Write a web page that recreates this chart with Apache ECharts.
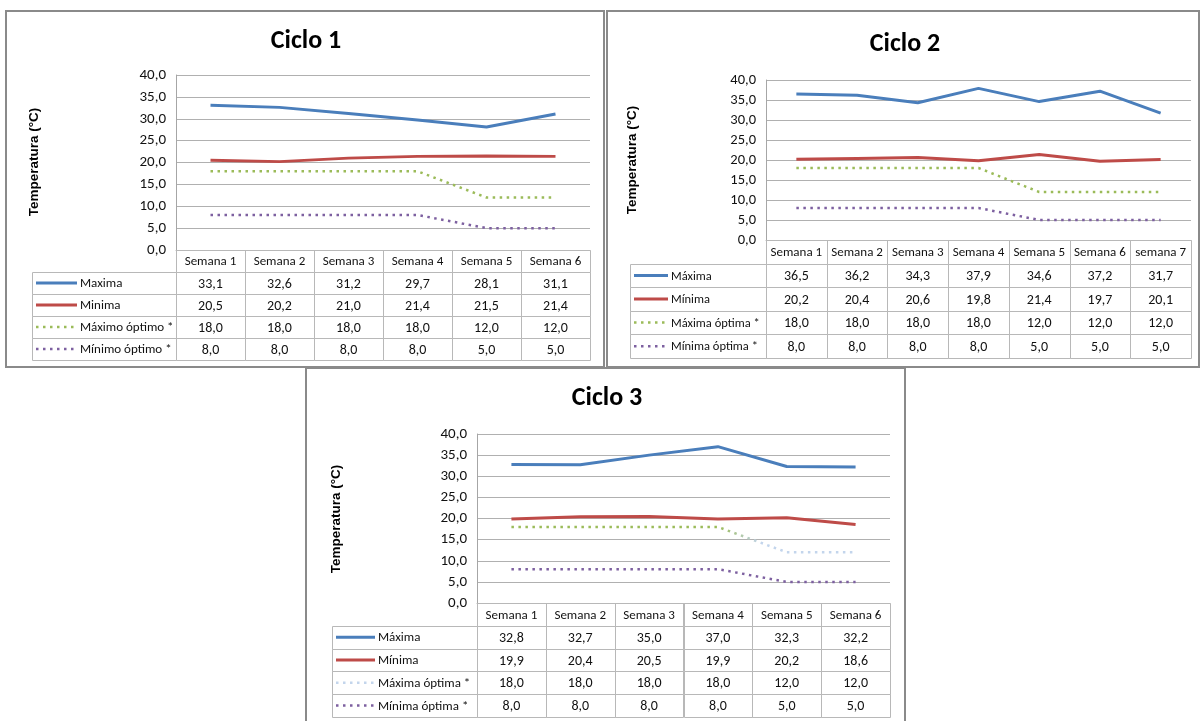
<!DOCTYPE html>
<html>
<head>
<meta charset="utf-8">
<script src="https://cdn.jsdelivr.net/npm/echarts@6/dist/echarts.min.js"></script>
<style>
html,body{margin:0;padding:0;background:#fff;}
#c{width:1201px;height:721px;}
</style>
</head>
<body>
<div id="c"></div>
<script>
// ---------- DATA ----------
const cats1 = ['Semana 1','Semana 2','Semana 3','Semana 4','Semana 5','Semana 6'];
const c1Max = [33.1, 32.6, 31.2, 29.7, 28.1, 31.1];
const c1Min = [20.5, 20.2, 21.0, 21.4, 21.5, 21.4];
const c1OptMax = [18.0, 18.0, 18.0, 18.0, 12.0, 12.0];
const c1OptMin = [8.0, 8.0, 8.0, 8.0, 5.0, 5.0];
const names1 = ['Maxima', 'Minima', 'Máximo óptimo *', 'Mínimo óptimo *'];

const cats2 = ['Semana 1','Semana 2','Semana 3','Semana 4','Semana 5','Semana 6','semana 7'];
const c2Max = [36.5, 36.2, 34.3, 37.9, 34.6, 37.2, 31.7];
const c2Min = [20.2, 20.4, 20.6, 19.8, 21.4, 19.7, 20.1];
const c2OptMax = [18.0, 18.0, 18.0, 18.0, 12.0, 12.0, 12.0];
const c2OptMin = [8.0, 8.0, 8.0, 8.0, 5.0, 5.0, 5.0];
const names2 = ['Máxima', 'Mínima', 'Máxima óptima *', 'Mínima óptima *'];

const cats3 = ['Semana 1','Semana 2','Semana 3','Semana 4','Semana 5','Semana 6'];
const c3Max = [32.8, 32.7, 35.0, 37.0, 32.3, 32.2];
const c3Min = [19.9, 20.4, 20.5, 19.9, 20.2, 18.6];
const c3OptMax = [18.0, 18.0, 18.0, 18.0, 12.0, 12.0];
const c3OptMin = [8.0, 8.0, 8.0, 8.0, 5.0, 5.0];
const names3 = ['Máxima', 'Mínima', 'Máxima óptima *', 'Mínima óptima *'];

const titles = ['Ciclo 1', 'Ciclo 2', 'Ciclo 3'];
const yName = 'Temperatura (°C)';
const yTicks = {min: 0, max: 40, interval: 5};

// ---------- STYLE / LAYOUT ----------
const FONT = "Carlito, 'Liberation Sans Narrow', 'Open Sans', sans-serif";
const BOLD_FONT = "'Liberation Sans', Arial, sans-serif";
const BLUE = '#4a7ebb', RED = '#be4b48', GREEN = '#9bbb59', PURPLE = '#7d60a0', LIGHTBLUE = '#c3d5ec';
const BORDER = '#b8b8b8', GRID = '#b0b0b0', AXIS = '#a6a6a6', TEXT = '#111';
const fmt = v => v.toFixed(1).replace('.', ',');

const panels = [
  {cats: cats1, series: [c1Max, c1Min, c1OptMax, c1OptMin], names: names1,
   plot: {left: 176, top: 75, width: 414, height: 175}, tableH: 110, tableLeft: 32, keyLen: 41, legendFont: 13, yFont: 15,
   title: {x: 306, y: 41}, yname: {x: 34, y: 162}, optMaxGradient: false},
  {cats: cats2, series: [c2Max, c2Min, c2OptMax, c2OptMin], names: names2,
   plot: {left: 766, top: 80, width: 425, height: 160}, tableH: 118, tableLeft: 630, keyLen: 34, legendFont: 12.5, yFont: 14.5,
   title: {x: 905, y: 44}, yname: {x: 632, y: 160}, optMaxGradient: false},
  {cats: cats3, series: [c3Max, c3Min, c3OptMax, c3OptMin], names: names3,
   plot: {left: 477, top: 434, width: 413, height: 169}, tableH: 114, tableLeft: 332, keyLen: 39, legendFont: 13, yFont: 15,
   title: {x: 607, y: 398}, yname: {x: 336, y: 519}, optMaxGradient: true}
];

function lineStyles(p) {
  const optMaxColor = p.optMaxGradient
    ? new echarts.graphic.LinearGradient(0, 0, 1, 0, [
        {offset: 0, color: GREEN}, {offset: 0.6, color: GREEN},
        {offset: 0.72, color: LIGHTBLUE}, {offset: 1, color: LIGHTBLUE}])
    : GREEN;
  return [
    {color: BLUE, width: 3, type: 'solid', key: BLUE},
    {color: RED, width: 3, type: 'solid', key: RED},
    {color: optMaxColor, width: 2.5, type: [2.5, 4.5], key: p.optMaxGradient ? LIGHTBLUE : GREEN},
    {color: PURPLE, width: 2.5, type: [2.5, 4.5], key: PURPLE}
  ];
}

const option = {
  animation: false,
  grid: [], xAxis: [], yAxis: [], series: [], graphic: []
};

panels.forEach((p, pi) => {
  const gPlot = option.grid.length;
  option.grid.push({left: p.plot.left, top: p.plot.top, width: p.plot.width, height: p.plot.height, containLabel: false});
  option.grid.push({left: p.plot.left, top: p.plot.top + p.plot.height, width: p.plot.width, height: p.tableH, containLabel: false});
  const gTab = gPlot + 1;

  option.xAxis.push({type: 'category', gridIndex: gPlot, data: p.cats, boundaryGap: true,
    axisLine: {show: true, lineStyle: {color: BORDER, width: 1}}, axisTick: {show: false}, axisLabel: {show: false}});
  option.yAxis.push({type: 'value', gridIndex: gPlot, min: yTicks.min, max: yTicks.max, interval: yTicks.interval,
    axisLine: {show: true, lineStyle: {color: AXIS, width: 1}}, axisTick: {show: false},
    axisLabel: {formatter: fmt, color: TEXT, fontSize: p.yFont, fontFamily: FONT, margin: 10},
    splitLine: {show: true, lineStyle: {color: GRID, width: 1}}});

  option.xAxis.push({type: 'category', gridIndex: gTab, data: p.cats, boundaryGap: true, show: false});
  option.yAxis.push({type: 'category', gridIndex: gTab, data: ['h', 'r1', 'r2', 'r3', 'r4'], inverse: true, show: false});

  const styles = lineStyles(p);
  p.series.forEach((arr, si) => {
    const st = styles[si];
    option.series.push({type: 'line', name: p.names[si], xAxisIndex: gPlot, yAxisIndex: gPlot,
      data: arr, showSymbol: false, symbol: 'none', smooth: false, z: 5 - si,
      lineStyle: {color: st.color, width: st.width, type: st.type, cap: 'butt'}});
  });

  // table cells
  const cells = [], labels = [];
  p.cats.forEach((c, ci) => { cells.push([ci, 0]); labels.push(c); });
  p.series.forEach((arr, si) => arr.forEach((v, ci) => { cells.push([ci, si + 1]); labels.push(fmt(v)); }));

  option.series.push({
    type: 'custom', xAxisIndex: gTab, yAxisIndex: gTab, data: cells, silent: true, clip: false,
    renderItem: function (params, api) {
      const col = api.value(0), row = api.value(1);
      const c = api.coord([col, row]);
      const s = api.size([1, 1]);
      const x0 = Math.round(c[0] - s[0] / 2) + 0.5, y0 = Math.round(c[1] - s[1] / 2) + 0.5;
      const x1 = Math.round(c[0] + s[0] / 2) + 0.5, y1 = Math.round(c[1] + s[1] / 2) + 0.5;
      const ch = [
        {type: 'rect', shape: {x: x0, y: y0, width: x1 - x0, height: y1 - y0}, style: {fill: 'none', stroke: BORDER, lineWidth: 1}},
        {type: 'text', style: {text: labels[params.dataIndex], x: c[0], y: c[1] + 1, align: 'center', verticalAlign: 'middle',
          fontSize: row === 0 ? 13 : 14, fontFamily: FONT, fill: TEXT}}
      ];
      if (col === 0 && row > 0) {
        const lx = p.tableLeft + 0.5;
        const st = styles[row - 1];
        ch.push({type: 'rect', shape: {x: lx, y: y0, width: x0 - lx, height: y1 - y0}, style: {fill: 'none', stroke: BORDER, lineWidth: 1}});
        ch.push({type: 'line', shape: {x1: p.tableLeft + 4, y1: c[1], x2: p.tableLeft + 4 + p.keyLen, y2: c[1]},
          style: {stroke: st.key, lineWidth: st.width, lineDash: st.type === 'solid' ? null : st.type}});
        ch.push({type: 'text', style: {text: p.names[row - 1], x: p.tableLeft + 7 + p.keyLen, y: c[1] + 1, align: 'left', verticalAlign: 'middle',
          fontSize: p.legendFont, fontFamily: FONT, fill: TEXT}});
      }
      return {type: 'group', children: ch};
    }
  });

  option.graphic.push({type: 'text', x: p.title.x, y: p.title.y, silent: true,
    style: {text: titles[pi], align: 'center', verticalAlign: 'middle', fontSize: 26, fontWeight: 'bold', fontFamily: FONT, fill: '#000'}});
  option.graphic.push({type: 'text', x: p.yname.x, y: p.yname.y, rotation: Math.PI / 2, silent: true,
    style: {text: yName, align: 'center', verticalAlign: 'middle', fontSize: 13.5, fontWeight: 'bold', fontFamily: BOLD_FONT, fill: '#000'}});
});

// panel frames
const FRAME = '#8a8a8a';
option.graphic.push({type: 'rect', shape: {x: 6, y: 11, width: 598, height: 356}, style: {fill: 'none', stroke: FRAME, lineWidth: 2}, z: 10});
option.graphic.push({type: 'rect', shape: {x: 607, y: 11, width: 592, height: 356}, style: {fill: 'none', stroke: FRAME, lineWidth: 2}, z: 10});
option.graphic.push({type: 'rect', shape: {x: 306, y: 368, width: 599, height: 360}, style: {fill: '#fff', stroke: FRAME, lineWidth: 2}, z: -10});

const chart = echarts.init(document.getElementById('c'), null, {renderer: 'canvas'});
chart.setOption(option);
</script>
</body>
</html>
